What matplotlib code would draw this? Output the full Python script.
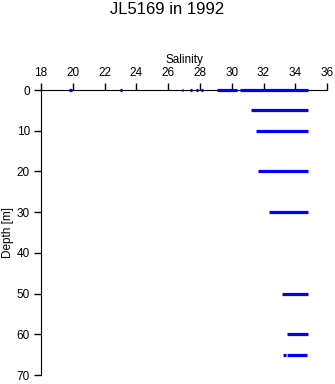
import numpy as np
import matplotlib.pyplot as plt

plt.rcParams['font.family'] = ['Liberation Sans', 'DejaVu Sans']

# depth levels [m] and salinity ranges observed at each level (start, end)
depths = [0, 0, 0, 0, 0, 0, 0, 0, 5, 10, 20, 30, 50, 60, 65, 65]
sal_start = [19.75, 22.95, 26.85, 27.4, 27.75, 28.05, 29.1, 30.55, 31.2, 31.5, 31.65, 32.35, 33.15, 33.5, 33.25, 33.5]
sal_end = [19.95, 23.1, 26.95, 27.5, 27.85, 28.2, 30.35, 34.8, 34.8, 34.8, 34.8, 34.8, 34.8, 34.8, 33.4, 34.75]

xticks = [18, 20, 22, 24, 26, 28, 30, 32, 34, 36]
yticks = [0, 10, 20, 30, 40, 50, 60, 70]

fig = plt.figure(figsize=(3.35, 3.84), dpi=100)
ax = fig.add_axes([0.1224, 0.0234, 0.854, 0.7422])

ax.hlines(depths, sal_start, sal_end, colors='#0000ff', linewidth=2.3,
          zorder=5, clip_on=False)

ax.set_xlim(18, 36)
ax.set_ylim(70, 0)
ax.set_xticks(xticks)
ax.set_yticks(yticks)
ax.xaxis.tick_top()
ax.xaxis.set_label_position('top')
ax.set_xlabel('Salinity', fontsize=8.5, labelpad=3)
ax.set_ylabel('Depth [m]', fontsize=8.5, labelpad=2)
ax.tick_params(axis='both', labelsize=8.5, length=5, width=1, direction='out', pad=3)
ax.spines['right'].set_visible(False)
ax.spines['bottom'].set_visible(False)

fig.text(0.5, 0.995, 'JL5169 in 1992', ha='center', va='top', fontsize=12)

plt.savefig('out.png', dpi=100)
